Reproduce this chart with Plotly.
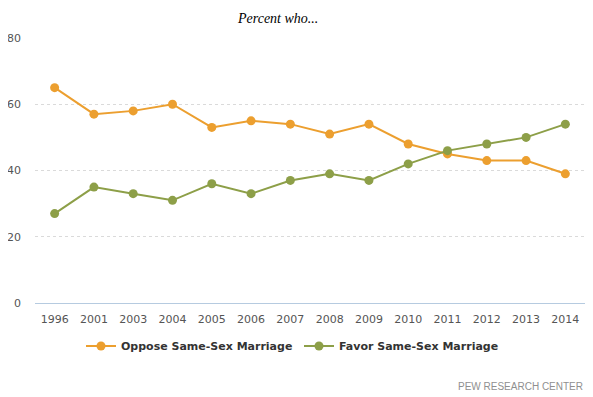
import plotly.graph_objects as go

years = ["1996", "2001", "2003", "2004", "2005", "2006", "2007", "2008", "2009",
         "2010", "2011", "2012", "2013", "2014"]
oppose = [65, 57, 58, 60, 53, 55, 54, 51, 54, 48, 45, 43, 43, 39]
favor = [27, 35, 33, 31, 36, 33, 37, 39, 37, 42, 46, 48, 50, 54]
y_ticks = [0, 20, 40, 60, 80]

ORANGE = "#EC9F2F"
GREEN = "#8D9F48"

# page body has an 8px margin, so the figure is offset by 8px
OFF = 8
W, H = 593 - OFF, 397 - OFF
PLOT_L, PLOT_R, PLOT_T, PLOT_B = 35, 585, 38, 303

fig = go.Figure()
fig.add_trace(go.Scatter(x=years, y=oppose, name="Oppose Same-Sex Marriage",
                         mode="lines+markers",
                         line=dict(color=ORANGE, width=2),
                         marker=dict(color=ORANGE, size=9)))
fig.add_trace(go.Scatter(x=years, y=favor, name="Favor Same-Sex Marriage",
                         mode="lines+markers",
                         line=dict(color=GREEN, width=2),
                         marker=dict(color=GREEN, size=9)))

pw = PLOT_R - PLOT_L
ph = PLOT_B - PLOT_T

fig.update_layout(
    width=W, height=H,
    margin=dict(l=PLOT_L - OFF, r=593 - PLOT_R, t=PLOT_T - OFF, b=397 - PLOT_B,
                autoexpand=False),
    paper_bgcolor="white", plot_bgcolor="white",
    font=dict(family="DejaVu Sans", size=11, color="#555555"),
    showlegend=True,
    legend=dict(orientation="h", xref="container", yref="container",
                x=(299 - OFF) / W, xanchor="center",
                y=1 - (346 - OFF) / H, yanchor="middle",
                entrywidth=173,
                font=dict(family="DejaVu Sans", size=11, color="#333333",
                          weight="bold"),
                bgcolor="rgba(0,0,0,0)", itemclick=False),
    xaxis=dict(type="category", range=[-0.5, 13.5], showgrid=False,
               showline=True, linecolor="#B6CBE0", linewidth=1,
               ticks="", ticklabelstandoff=6, zeroline=False, automargin=False,
               tickfont=dict(family="DejaVu Sans", size=11, color="#555555")),
    yaxis=dict(range=[0, 80], tickvals=y_ticks, showgrid=True,
               gridcolor="#DADADA", griddash="dot", gridwidth=1,
               zeroline=False, showline=False, ticks="", automargin=False,
               ticklabelstandoff=13,
               tickfont=dict(family="DejaVu Sans", size=11, color="#555555")),
    annotations=[
        dict(text="Percent who...", xref="paper", yref="paper",
             x=(277 - PLOT_L) / pw, y=1 + (PLOT_T - 18) / ph, xanchor="center",
             yanchor="middle", showarrow=False,
             font=dict(family="Liberation Serif", size=14, color="#000000",
                       style="italic")),
        dict(text="PEW RESEARCH CENTER", xref="paper", yref="paper",
             x=1, y=-(386 - PLOT_B) / ph, xanchor="right", yanchor="middle",
             showarrow=False,
             font=dict(family="Liberation Sans Narrow, Liberation Sans",
                       size=10, color="#8F8F8F")),
    ],
)

fig.write_html("out.html")
